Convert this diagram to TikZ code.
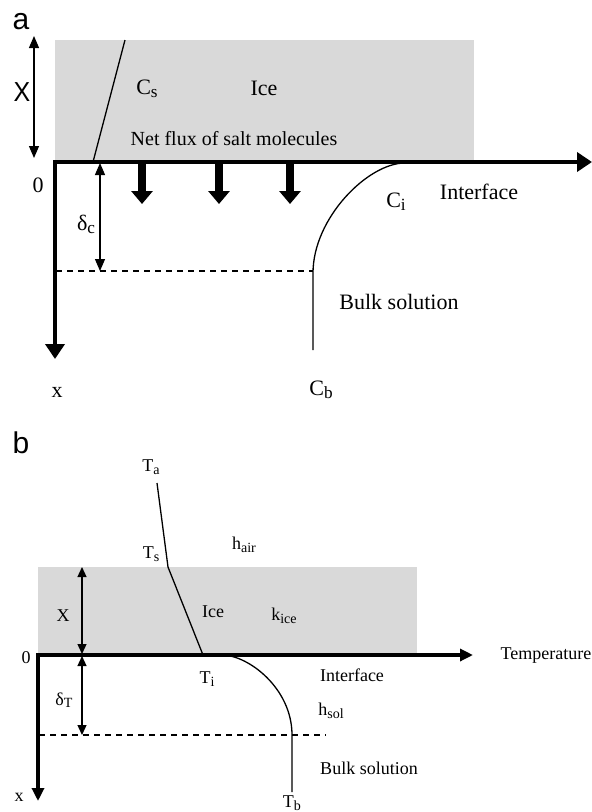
\documentclass[tikz,border=0pt]{standalone}
\usepackage{fontspec}
\usepackage{graphicx}
\setmainfont{Liberation Serif}
\newfontfamily\lsans{Liberation Sans}
\usetikzlibrary{arrows.meta}
\definecolor{icegray}{RGB}{217,217,217}
\newcommand\sbx[1]{\raisebox{-0.3ex}{\scalebox{0.78}{#1}}}
\begin{document}
\begin{tikzpicture}[x=1pt,y=-1pt,
  lblA/.style={inner sep=0pt, font=\fontsize{22}{24}\selectfont},
  lblN/.style={inner sep=0pt, font=\fontsize{20}{22}\selectfont},
  lblB/.style={inner sep=0pt, font=\fontsize{18}{20}\selectfont},
  panel/.style={inner sep=0pt, font=\lsans\fontsize{30}{32}\selectfont},
  thinline/.style={line width=1.3pt},
  dimA/.style={thinline, {Triangle[length=12pt,width=10pt]}-{Triangle[length=12pt,width=10pt]}},
  dimB/.style={thinline, {Triangle[length=10pt,width=9pt]}-{Triangle[length=10pt,width=9pt]}},
  axisA/.style={line width=4pt, -{Triangle[length=15pt,width=19pt]}},
  axisB/.style={line width=3.2pt, -{Triangle[length=13pt,width=12pt]}},
  fluxarrow/.style={line width=7.5pt, -{Triangle[length=13pt,width=21pt]}},
  icebox/.style={fill=icegray, draw=none},
  dashline/.style={line width=1.2pt, dash pattern=on 6pt off 5pt}]
\useasboundingbox (0,0) rectangle (592,812);

% ================= panel a =================
\fill[icebox] (55,40) rectangle (474,160);
\coordinate (OA) at (55,162);
\coordinate (xAend) at (592,162);
\coordinate (yAend) at (55,359);
\draw[axisA] (OA) -- (xAend);
\draw[axisA] (OA) -- (yAend);
\fill (53,160) rectangle (57,164);

\node[panel] (la) at (21,22) {a};
\coordinate (XAtop) at (34,36);
\coordinate (XAbot) at (34,158);
\draw[dimA] (XAtop) -- (XAbot);
\node[inner sep=0pt, font=\lsans\fontsize{25}{27}\selectfont, yscale=1.1] (XA) at (22,92) {X};

\coordinate (csT) at (125,40);
\coordinate (csB) at (93,162);
\draw[thinline] (csT) -- (csB);

\node[lblA] (Cs) at (147,89) {C\sbx{s}};
\node[lblA] (IceA) at (264,88) {Ice};
\node[lblN] (flux) at (234,139) {Net flux of salt molecules};
\node[lblA] (zeroA) at (38,185) {0};

\coordinate (dcT) at (100,163);
\coordinate (dcB) at (100,271);
\draw[dimA] (dcT) -- (dcB);
\node[lblA] (dc) at (86,224) {δ\sbx{c}};

\coordinate (dashAs) at (56,271);
\coordinate (dashAe) at (313,271);
\draw[dashline] (dashAs) -- (dashAe);

\foreach \i/\xx in {1/142,2/219,3/290}{
  \coordinate (f\i s) at (\xx,164);
  \coordinate (f\i e) at (\xx,204);
  \draw[fluxarrow] (f\i s) -- (f\i e);
}

\coordinate (ciS) at (405,163);
\coordinate (ciM) at (313,273);
\coordinate (ciE) at (313,350);
\draw[thinline] (ciS) .. controls (368,163) and (313,218) .. (ciM) -- (ciE);

\node[lblA] (Ci) at (396,202) {C\sbx{i}};
\node[lblA] (IntA) at (479,192) {Interface};
\node[lblA] (BulkA) at (399,302) {Bulk solution};
\node[lblA] (xA) at (57,392) {x};
\node[lblA] (Cb) at (321,390) {C\sbx{b}};

% ================= panel b =================
\fill[icebox] (38,567) rectangle (417,653);
\coordinate (OB) at (38,655);
\coordinate (xBend) at (473,655);
\coordinate (yBend) at (38,801);
\draw[axisB] (OB) -- (xBend);
\draw[axisB] (OB) -- (yBend);
\fill (36.4,653.4) rectangle (39.6,656.6);

\node[panel] (lb) at (21,443) {b};

\coordinate (ta) at (157,483);
\coordinate (ts) at (168,567);
\coordinate (ti) at (203,655);
\draw[thinline] (ta) -- (ts) -- (ti);

\node[lblB] (Ta) at (151,467) {T\sbx{a}};
\node[lblB] (Ts) at (151,554) {T\sbx{s}};
\node[lblB] (hair) at (244,545) {h\sbx{air}};
\node[lblB] (IceB) at (213,612) {Ice};
\node[lblB] (kice) at (284,616) {k\sbx{ice}};

\coordinate (XBtop) at (82,567);
\coordinate (XBbot) at (82,654);
\draw[dimB] (XBtop) -- (XBbot);
\node[lblB] (XB) at (63,616) {X};
\node[lblB] (zeroB) at (26,658) {0};
\node[lblB] (temp) at (546,656) {Temperature};

\coordinate (dtT) at (82,656);
\coordinate (dtB) at (82,735);
\draw[dimB] (dtT) -- (dtB);
\node[lblB] (dT) at (64,700) {δ\sbx{T}};

\coordinate (dashBs) at (39,735);
\coordinate (dashBe) at (326,735);
\draw[dashline] (dashBs) -- (dashBe);

\coordinate (tiS) at (222,655);
\coordinate (tiM) at (292,735);
\coordinate (tiE) at (292,792);
\draw[thinline] (tiS) .. controls (248,655) and (292,688) .. (tiM) -- (tiE);

\node[lblB] (Ti) at (207,679) {T\sbx{i}};
\node[lblB] (IntB) at (352,675) {Interface};
\node[lblB] (hsol) at (331,711) {h\sbx{sol}};
\node[lblB] (BulkB) at (369,768) {Bulk solution};
\node[lblB] (xB) at (19,797) {x};
\node[lblB] (Tb) at (292,803) {T\sbx{b}};
\end{tikzpicture}
\end{document}
